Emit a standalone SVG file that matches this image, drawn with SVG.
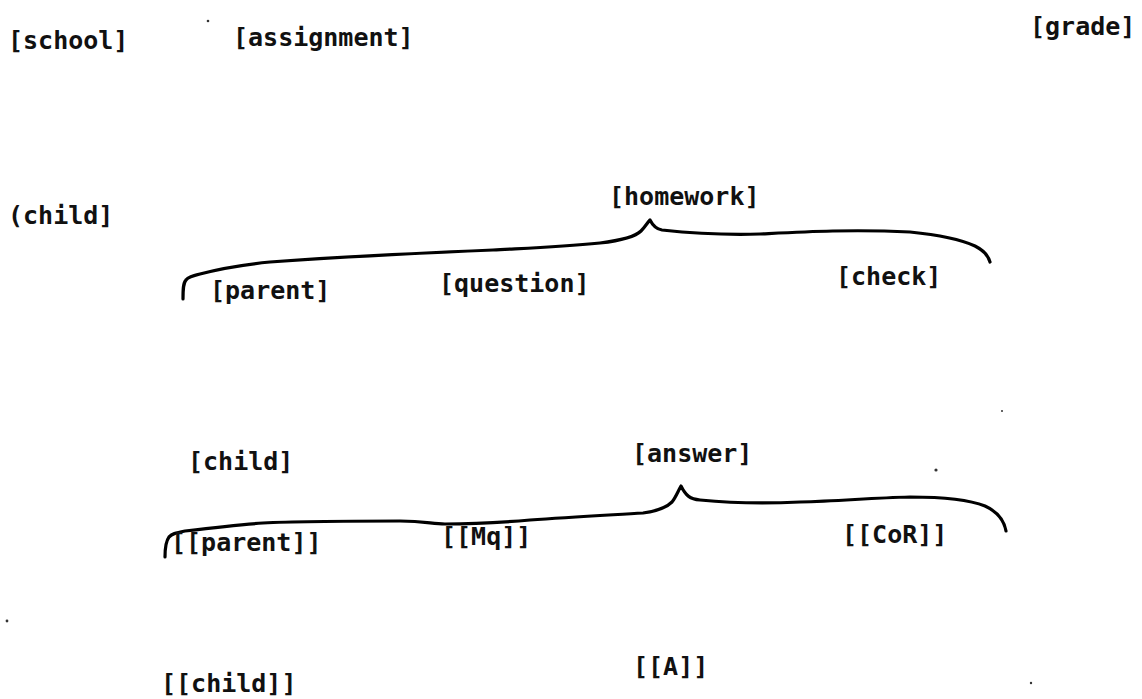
<svg xmlns="http://www.w3.org/2000/svg" width="1142" height="699" viewBox="0 0 1142 699">
  <style>
    .lbl { font-family: "DejaVu Sans Mono", "Liberation Mono", monospace; font-size: 25px; fill: #111; font-weight: bold; }
    .brace { fill: none; stroke: #000; stroke-width: 3.2; stroke-linecap: round; stroke-linejoin: round; }
    .speck { fill: #333; }
  </style>
  <rect width="1142" height="699" fill="#fff"/>

  <!-- curly braces grouping the constituents -->
  <g id="connectors">
    <path class="brace" d="M183,299 C183,290 183,283 186,280 C188,277 192,276 200,274 C215,270 240,265 270,262 C340,257 420,253 493,250 C530,248 560,247 600,243 C625,240 636,236 641,231 C645,227 647,223 650,220 C653,226 656,229 662,230 C690,233 727,235 760,234 C800,232 850,229 910,232 C940,235 962,240 975,246 C983,250 988,255 990,262"/>
    <path class="brace" d="M165,557 C165,549 166,541 169,537 C172,534 175,533 185,531 C210,528 235,525 263,523 C300,521 340,521 400,521 C425,521 432,524 445,524 C470,524 495,523 530,520 C570,517 610,515 643,513 C658,511 667,507 672,502 C676,497 678,491 681,486 C686,496 690,499 700,500 C730,503 760,504 800,502 C840,501 870,498 910,497 C945,497 970,500 985,506 C998,512 1004,520 1006,531"/>
  </g>

  <g id="school"><text class="lbl" x="8" y="49">[school]</text></g>
  <g id="assignment"><text class="lbl" x="233" y="46">[assignment]</text></g>
  <g id="grade"><text class="lbl" x="1030" y="35">[grade]</text></g>
  <g id="child-top"><text class="lbl" x="8" y="224">(child]</text></g>
  <g id="homework"><text class="lbl" x="609" y="205">[homework]</text></g>
  <g id="parent"><text class="lbl" x="210" y="299">[parent]</text></g>
  <g id="question"><text class="lbl" x="439" y="292">[question]</text></g>
  <g id="check"><text class="lbl" x="836" y="285">[check]</text></g>
  <g id="child-mid"><text class="lbl" x="188" y="470">[child]</text></g>
  <g id="answer"><text class="lbl" x="632" y="462">[answer]</text></g>
  <g id="parent2"><text class="lbl" x="171" y="551">[[parent]]</text></g>
  <g id="mq"><text class="lbl" x="441" y="545">[[Mq]]</text></g>
  <g id="cor"><text class="lbl" x="842" y="543">[[CoR]]</text></g>
  <g id="child2"><text class="lbl" x="161" y="692">[[child]]</text></g>
  <g id="a2"><text class="lbl" x="633" y="675">[[A]]</text></g>

  <!-- small specks on the page -->
  <circle class="speck" cx="208" cy="21" r="1.3"/>
  <circle class="speck" cx="936" cy="470" r="1.6"/>
  <circle class="speck" cx="7" cy="621" r="1.4"/>
  <circle class="speck" cx="1031" cy="683" r="1.2"/>
  <circle class="speck" cx="1002" cy="411" r="1"/>
</svg>
